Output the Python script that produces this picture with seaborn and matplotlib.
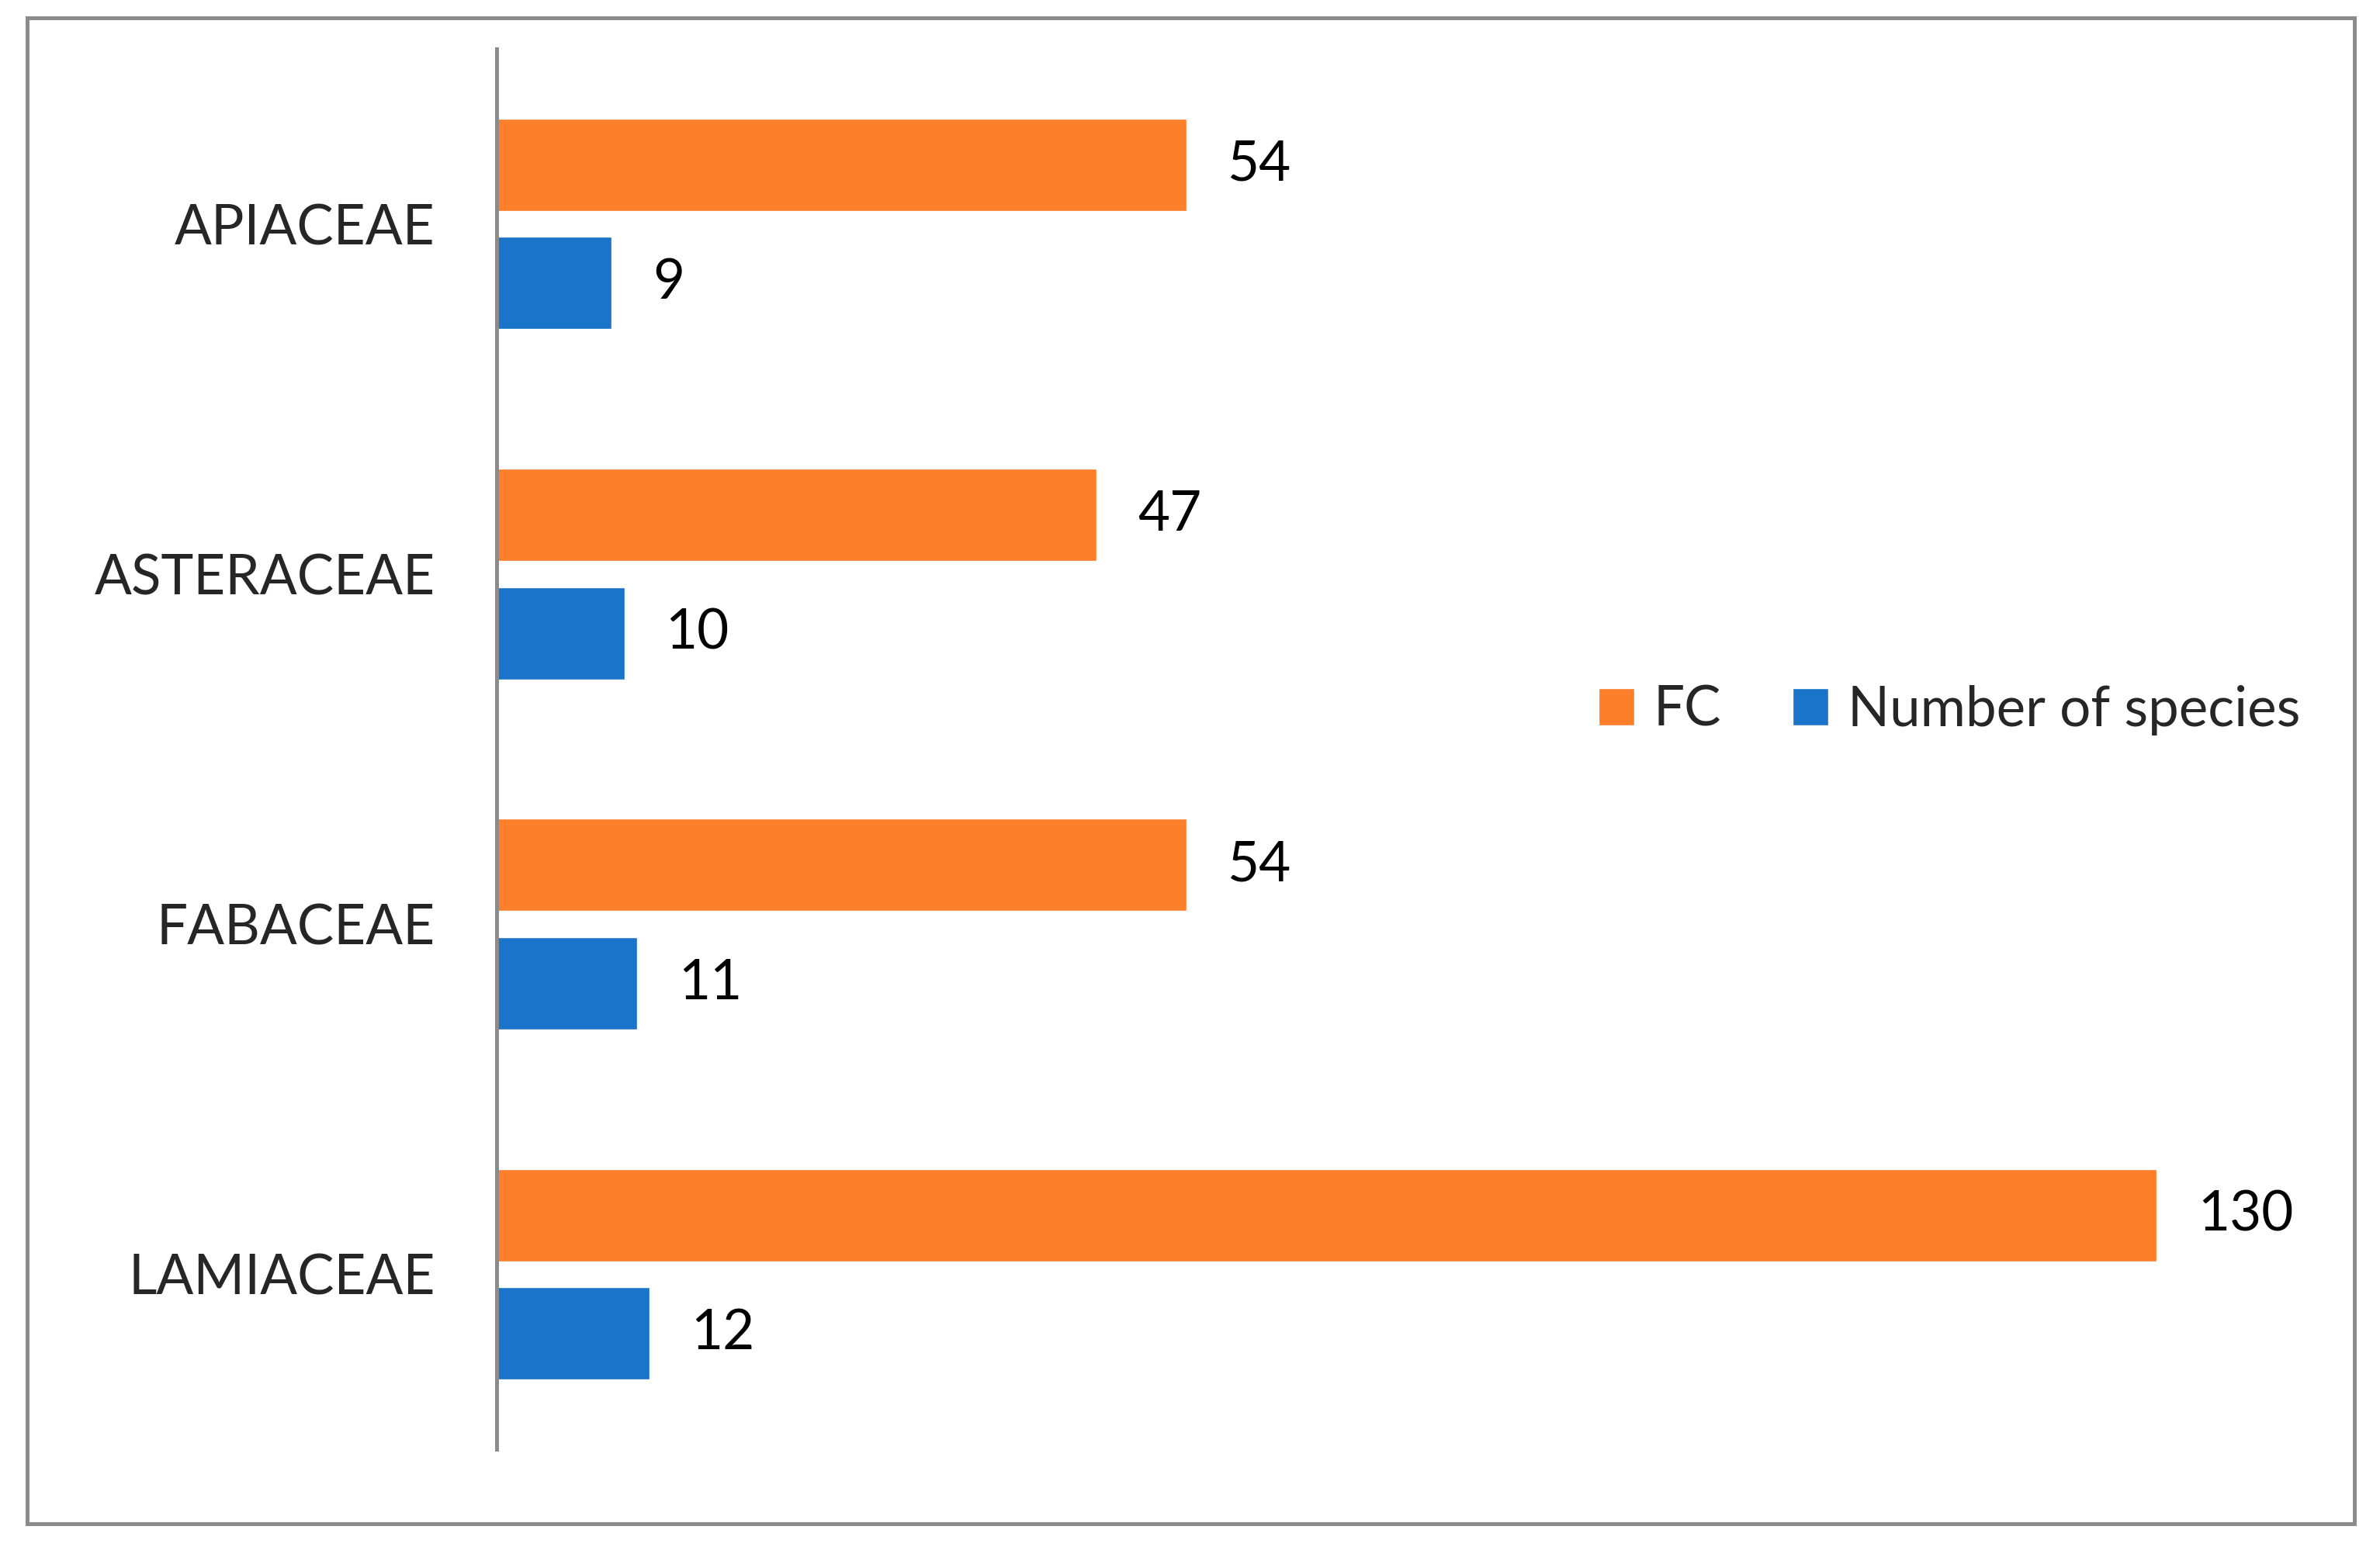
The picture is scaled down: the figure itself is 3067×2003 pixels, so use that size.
import matplotlib
matplotlib.use("Agg")
import matplotlib.pyplot as plt
import seaborn as sns
import pandas as pd
from matplotlib.patches import Rectangle

# data
families = ["APIACEAE", "ASTERACEAE", "FABACEAE", "LAMIACEAE"]
fc_values = [54, 47, 54, 130]
species_counts = [9, 10, 11, 12]
series_names = ["FC", "Number of species"]

rows = []
for fam, fc, sp in zip(families, fc_values, species_counts):
    rows.append({"Family": fam, "Series": series_names[0], "Value": fc})
    rows.append({"Family": fam, "Series": series_names[1], "Value": sp})
df = pd.DataFrame(rows)

sns.set_theme(style="white")
plt.rcParams["font.family"] = ["Lato", "DejaVu Sans"]

W, H = 3067, 2003
fig = plt.figure(figsize=(W / 100, H / 100), dpi=100)

# axes placed like the Excel plot area
ax_left, ax_right = 640 / W, 2944 / W
ax_bottom, ax_top = 1 - 1868 / H, 1 - 63 / H
ax = fig.add_axes([ax_left, ax_bottom, ax_right - ax_left, ax_top - ax_bottom])

colors = {"FC": "#FE7F2A", "Number of species": "#1A74C9"}
sns.barplot(
    data=df, y="Family", x="Value", hue="Series", orient="h",
    palette=colors, width=0.676, gap=0.22, errorbar=None,
    saturation=1, ax=ax, order=families, hue_order=series_names,
)

fs = 51
ax.set_xlim(0, 140)
ax.set_ylim(3.5, -0.5)
ax.set_xlabel("")
ax.set_ylabel("")
ax.set_xticks([])
ax.tick_params(axis="y", length=0, pad=57, labelsize=fs)

for side in ["top", "right", "bottom"]:
    ax.spines[side].set_visible(False)
ax.spines["left"].set_color("#8C8C8C")
ax.spines["left"].set_linewidth(3.6)

for cont in ax.containers:
    ax.bar_label(cont, fmt="%d", padding=38, fontsize=fs, color="black")

ax.legend(
    loc="center", bbox_to_anchor=(0.819, 0.543), bbox_transform=fig.transFigure,
    ncol=2, frameon=False, fontsize=fs, handlelength=0.65, handleheight=0.65,
    handletextpad=0.35, columnspacing=1.3,
)

# outer chart border
fig.patches.append(Rectangle(
    (35 / W, 1 - 1964 / H), (3034 - 35) / W, (1964 - 23) / H,
    transform=fig.transFigure, fill=False, edgecolor="#8C8C8C", linewidth=3.6,
))

plt.savefig("out.png", dpi=100)
